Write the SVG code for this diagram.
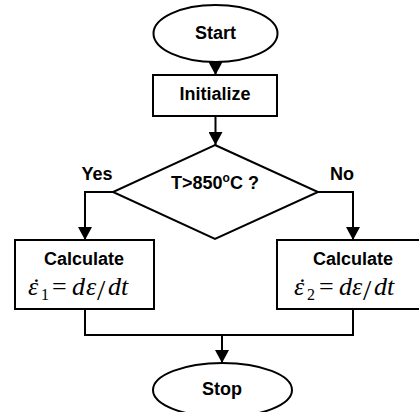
<svg xmlns="http://www.w3.org/2000/svg" width="419" height="412" viewBox="0 0 419 412">
<defs>
<style>
.shape{fill:#fff;stroke:#000;stroke-width:2}
.line{fill:none;stroke:#000;stroke-width:2}
.lbl{font-family:"Liberation Sans",Arial,sans-serif;font-weight:bold;font-size:18px;text-anchor:middle;fill:#000}
.m{font-family:"Liberation Serif","Times New Roman",serif;font-size:26px;fill:#000}
.mi{font-style:italic}
.sub{font-size:16px}
.sl{font-size:30px}
</style>
<marker id="arr" markerWidth="13" markerHeight="14" refX="13" refY="7" orient="auto" markerUnits="userSpaceOnUse">
<path d="M0,0 L13,7 L0,14 Z" fill="#000"/>
</marker>
</defs>
<g id="connectors">
<line class="line" x1="215.5" y1="62" x2="215.5" y2="75" marker-end="url(#arr)"/>
<line class="line" x1="215.5" y1="116" x2="215.5" y2="145" marker-end="url(#arr)"/>
<polyline class="line" points="113,192 85,192 85,240" marker-end="url(#arr)"/>
<polyline class="line" points="318,192 353,192 353,240" marker-end="url(#arr)"/>
<polyline class="line" points="85,309 85,335 353,335 353,309"/>
<line class="line" x1="222" y1="335" x2="222" y2="363" marker-end="url(#arr)"/>
</g>
<g id="start">
<ellipse class="shape" cx="215.5" cy="33.5" rx="62" ry="28.5"/>
<text class="lbl" x="215.5" y="39">Start</text>
</g>
<g id="initialize">
<rect class="shape" x="153" y="75" width="124" height="41"/>
<text class="lbl" x="215" y="100">Initialize</text>
</g>
<g id="decision">
<polygon class="shape" points="215,145 318,192 215,239 113,192"/>
<text class="lbl" x="215" y="189">T&gt;850<tspan font-size="12" dy="-7">o</tspan><tspan dy="7">C ?</tspan></text>
</g>
<g id="yes-label"><text class="lbl" x="97" y="180">Yes</text></g>
<g id="no-label"><text class="lbl" x="342" y="180">No</text></g>
<g id="calc1">
<rect class="shape" x="15" y="240" width="139" height="69"/>
<text class="lbl" x="84" y="265">Calculate</text>
<g id="f1">
<text class="m mi" x="28" y="295">ε<tspan font-style="normal" x="32" y="296">˙</tspan></text>
<text class="m sub" x="41" y="300">1</text>
<text class="m" x="52" y="295">=</text>
<text class="m mi" x="72" y="295">d</text>
<text class="m mi" x="86" y="295">ε</text>
<text class="m sl" x="97" y="300">/</text>
<text class="m mi" x="108" y="295">dt</text>
</g>
</g>
<g id="calc2">
<rect class="shape" x="277" y="240" width="153" height="69"/>
<text class="lbl" x="353" y="265">Calculate</text>
<g id="f2" transform="translate(266,0)">
<text class="m mi" x="28" y="295">ε<tspan font-style="normal" x="32" y="296">˙</tspan></text>
<text class="m sub" x="41" y="300">2</text>
<text class="m" x="53" y="295">=</text>
<text class="m mi" x="73" y="295">d</text>
<text class="m mi" x="86" y="295">ε</text>
<text class="m sl" x="97" y="300">/</text>
<text class="m mi" x="108" y="295">dt</text>
</g>
</g>
<g id="stop">
<ellipse class="shape" cx="222.5" cy="390" rx="69.5" ry="27"/>
<text class="lbl" x="222" y="395">Stop</text>
</g>
</svg>
